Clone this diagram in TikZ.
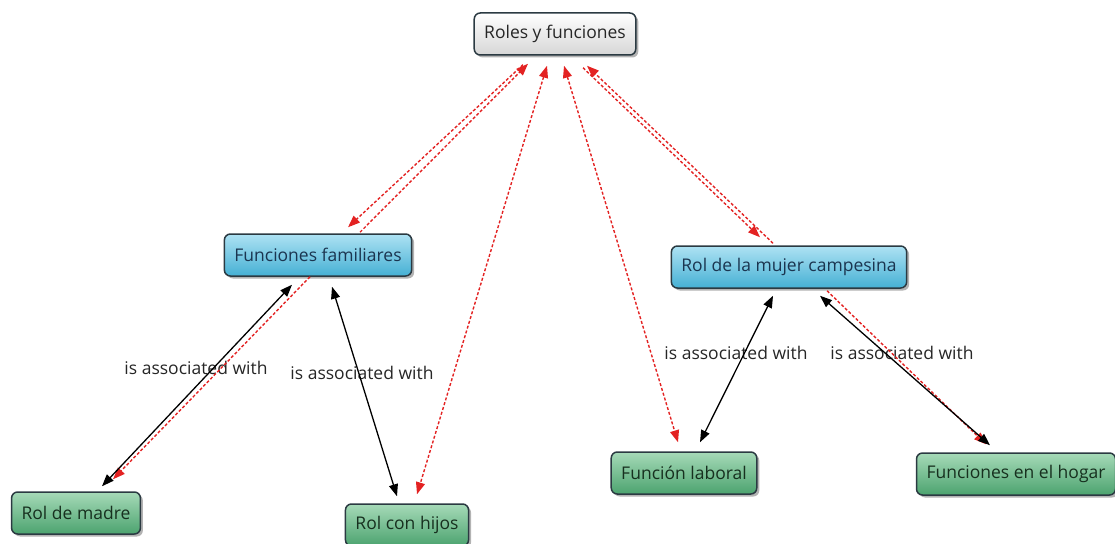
\documentclass[tikz,border=0pt]{standalone}
\usepackage{fontspec}
\setmainfont{Open Sans}
\usetikzlibrary{arrows.meta,shadows}
\definecolor{linkred}{HTML}{E32222}
\definecolor{boxedge}{HTML}{2B3A42}
\definecolor{rootbot}{HTML}{D6D6D6}
\definecolor{bluetop}{HTML}{AEE2F3}
\definecolor{bluebot}{HTML}{45B0D4}
\definecolor{bluetext}{HTML}{1B3550}
\definecolor{greentop}{HTML}{A6DAB8}
\definecolor{greenbot}{HTML}{4CA36F}
\definecolor{greentext}{HTML}{17301F}
\begin{document}
\begin{tikzpicture}[x=1pt,y=-1pt,font=\fontsize{17.5}{20}\selectfont, line join=round, >={Triangle[length=12pt,width=9pt]},
	concept/.style={draw=boxedge,line width=1.5pt,rounded corners=6pt,minimum height=42pt,inner xsep=10pt,
		drop shadow={shadow xshift=2.5pt,shadow yshift=-2.5pt,opacity=0.6}},
	rootbox/.style={concept,top color=white,bottom color=rootbot,text=black!85},
	bluebox/.style={concept,top color=bluetop,bottom color=bluebot,text=bluetext},
	greenbox/.style={concept,top color=greentop,bottom color=greenbot,text=greentext},
	redlink/.style={linkred,densely dashed,line width=1.4pt},
	blacklink/.style={black,line width=1.3pt,<->},
	linklabel/.style={inner sep=1pt,text=black!85}]
	\useasboundingbox (0,0) rectangle (1115,543);
	% concepts
	\node[rootbox] (roles) at (555,34) {Roles y funciones};
	\node[bluebox] (familiares) at (318,255) {Funciones familiares};
	\node[bluebox] (campesina) at (789,267) {Rol de la mujer campesina};
	\node[greenbox] (madre) at (76,513) {Rol de madre};
	\node[greenbox] (hijos) at (407,525) {Rol con hijos};
	\node[greenbox] (laboral) at (684,473) {Función laboral};
	\node[greenbox] (hogar) at (1016,474) {Funciones en el hogar};
	% link phrases
	\foreach \i/\x/\y in {1/196/368,2/362/373,3/736/353,4/902/353}{
		\node[linklabel] (assoc\i) at (\x,\y) {is associated with};}
	% cross-links
	\draw[redlink,->] ([xshift=-32pt,yshift=-9pt]roles.south) -- ([xshift=30pt,yshift=6pt]familiares.north);
	\draw[redlink,->] ([xshift=42pt,yshift=1pt]familiares.north) -- ([xshift=-27pt,yshift=-8pt]roles.south);
	\draw[redlink,<->] ([xshift=-8pt,yshift=-10pt]roles.south) -- ([xshift=10pt,yshift=9pt]hijos.north);
	\draw[redlink,<->] ([xshift=9pt,yshift=-10pt]roles.south) -- ([xshift=-6pt,yshift=9pt]laboral.north);
	\draw[redlink,->] ([xshift=-16pt,yshift=2pt]campesina.north) -- ([xshift=32pt,yshift=-10pt]roles.south);
	\draw[redlink,->] ([xshift=28pt,yshift=-12pt]roles.south) -- ([xshift=-29pt,yshift=8pt]campesina.north);
	\draw[redlink,->] ([xshift=-8pt]familiares.south) -- ([xshift=37pt,yshift=12pt]madre.north);
	\draw[redlink,->] ([xshift=38pt,yshift=-2pt]campesina.south) -- ([xshift=-30pt,yshift=8pt]hogar.north);
	% associations
	\draw[blacklink] ([xshift=-26pt,yshift=-8pt]familiares.south) -- ([xshift=26pt,yshift=5pt]madre.north);
	\draw[blacklink] ([xshift=14pt,yshift=-10pt]familiares.south) -- ([xshift=-10pt,yshift=7pt]hijos.north);
	\draw[blacklink] ([xshift=-16pt,yshift=-7pt]campesina.south) -- ([xshift=16pt,yshift=9pt]laboral.north);
	\draw[blacklink] ([xshift=31pt,yshift=-7pt]campesina.south) -- ([xshift=-26pt,yshift=7pt]hogar.north);
\end{tikzpicture}
\end{document}
